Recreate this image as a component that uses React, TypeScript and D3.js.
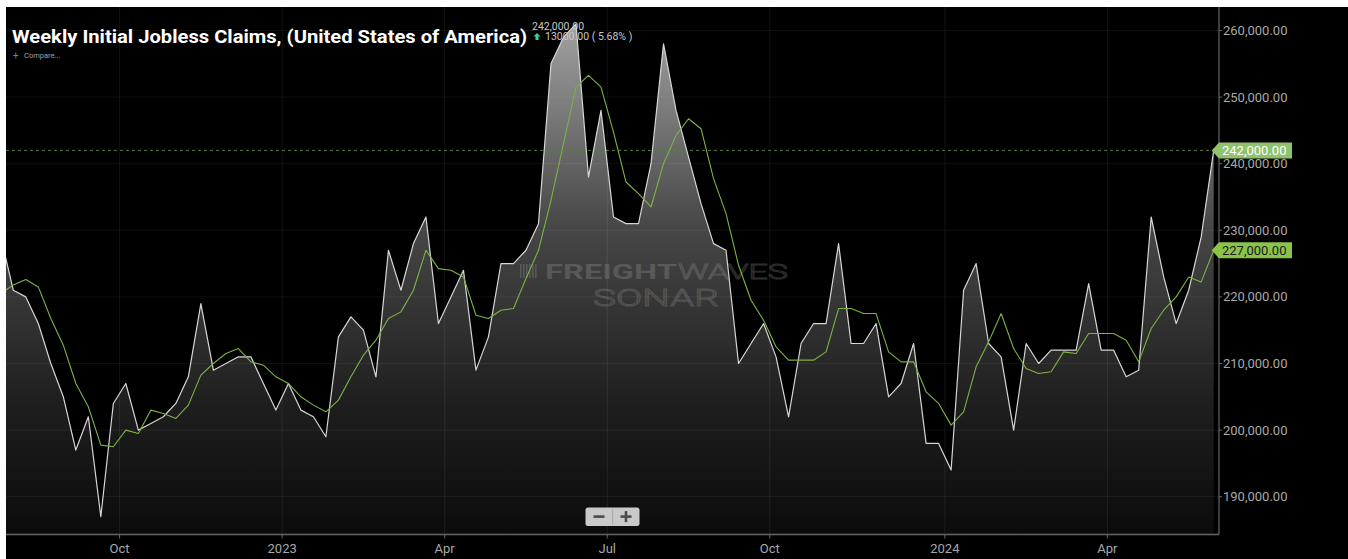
import React from 'react';
import * as d3 from 'd3';

// Weekly initial jobless claims (week index 0 = Jul 30 2022 ... 97 = Jun 8 2024)
const claims: number[] = [
  229000, 221000, 220000, 216000, 210000, 205000, 197000, 202000, 187000, 204000,
  207000, 200000, 201000, 202000, 204000, 208000, 219000, 209000, 210000, 211000,
  211000, 207000, 203000, 207000, 203000, 202000, 199000, 214000, 217000, 215000,
  208000, 227000, 221000, 228000, 232000, 216000, 220000, 224000, 209000, 214000,
  225000, 225000, 227000, 231000, 255000, 259000, 261000, 238000, 248000, 232000,
  231000, 231000, 240000, 258000, 248000, 241000, 234000, 228000, 227000, 210000,
  213000, 216000, 211000, 202000, 213000, 216000, 216000, 228000, 213000, 213000,
  216000, 205000, 207000, 213000, 198000, 198000, 194000, 221000, 225000, 213000,
  211000, 200000, 213000, 210000, 212000, 212000, 212000, 222000, 212000, 212000,
  208000, 209000, 232000, 223000, 216000, 221000, 229000, 242000,
];

// 4-week moving average
const movingAvg: number[] = [
  220500, 221800, 222600, 221500, 216750, 212750, 207000, 203500, 197750, 197500,
  200000, 199500, 203000, 202500, 201750, 203750, 208250, 210000, 211500, 212250,
  210250, 209750, 208000, 207000, 205000, 203750, 202750, 204500, 208000, 211250,
  213500, 216750, 217750, 221000, 227000, 224250, 224000, 223000, 217250, 216750,
  218000, 218250, 222750, 227000, 234500, 243000, 251500, 253250, 251500, 244750,
  237250, 235500, 233500, 240000, 244250, 246750, 245250, 237750, 232500, 224750,
  219500, 216500, 212500, 210500, 210500, 210500, 211750, 218250, 218250, 217500,
  217500, 211750, 210250, 210250, 205750, 204000, 200750, 202750, 209500, 213250,
  217500, 212250, 209250, 208500, 208750, 211750, 211500, 214500, 214500, 214500,
  213500, 210250, 215250, 218000, 220000, 223000, 222250, 227000,
];

const xTickLabels: string[] = ['Oct', '2023', 'Apr', 'Jul', 'Oct', '2024', 'Apr'];
const xTickWeekPos: number[] = [9.5, 22.5, 35.5, 48.5, 61.5, 75.5, 88.5];
const yTickValues: number[] = [190000, 200000, 210000, 220000, 230000, 240000, 250000, 260000];

const titleText = 'Weekly Initial Jobless Claims, (United States of America)';
const lastValueText = '242,000.00';
const changeText = '13000.00 ( 5.68% )';

const FONT = "Roboto, 'Liberation Sans', Arial, sans-serif";

export default function App() {
  const W = 1348;
  const H = 559;
  const plotLeft = 6;
  const plotTop = 7;
  const plotRight = 1219;
  const plotBottom = 534.5;

  const x = d3.scaleLinear().domain([0, claims.length - 1]).range([0.8, 1213.7]);
  const y = d3.scaleLinear().domain([190000, 260000]).range([496.7, 30.5]);

  const idx = claims.map((_, i) => i);
  const lineGen = d3.line<number>().x((i) => x(i)).y((i) => y(claims[i]));
  const areaGen = d3
    .area<number>()
    .x((i) => x(i))
    .y0(plotBottom)
    .y1((i) => y(claims[i]));
  const maGen = d3.line<number>().x((i) => x(i)).y((i) => y(movingAvg[i]));

  const fmt = d3.format(',.2f');
  const last = claims[claims.length - 1];
  const lastMa = movingAvg[movingAvg.length - 1];
  const tipX = x(claims.length - 1) - 2;

  const tagPath = (v: number) => {
    const cy = y(v);
    return `M${tipX},${cy} L${plotRight},${cy - 8} L${plotRight + 73},${cy - 8} L${plotRight + 73},${cy + 8} L${plotRight},${cy + 8} Z`;
  };

  return (
    <svg
      width={W}
      height={H}
      style={{ position: 'absolute', left: 0, top: 0, display: 'block' }}
      fontFamily={FONT}
    >
      <defs>
        <clipPath id="plotClip">
          <rect x={plotLeft} y={plotTop} width={plotRight - plotLeft} height={plotBottom - plotTop} />
        </clipPath>
        <linearGradient id="areaGrad" gradientUnits="userSpaceOnUse" x1="0" y1="20" x2="0" y2={plotBottom}>
          <stop offset="0%" stopColor="#a3a3a3" />
          <stop offset="40%" stopColor="#474747" />
          <stop offset="75%" stopColor="#1e1e1e" />
          <stop offset="100%" stopColor="#0b0b0b" />
        </linearGradient>
      </defs>

      <rect x={0} y={0} width={W} height={H} fill="#ffffff" />
      <rect x={plotLeft} y={plotTop} width={W - plotLeft} height={H - plotTop} fill="#000000" />

      <g clipPath="url(#plotClip)">
        <path d={areaGen(idx) || ''} fill="url(#areaGrad)" />
        {yTickValues.map((v) => (
          <line key={'hg' + v} x1={plotLeft} x2={plotRight} y1={y(v)} y2={y(v)} stroke="#ffffff" strokeOpacity={0.06} />
        ))}
        {xTickWeekPos.map((p, i) => (
          <line key={'vg' + i} x1={x(p)} x2={x(p)} y1={plotTop} y2={plotBottom} stroke="#ffffff" strokeOpacity={0.07} />
        ))}

        {/* watermark */}
        <g opacity={0.3}>
          {[0, 1, 2, 3, 4, 5].map((k) => (
            <rect key={'wb' + k} x={520 + k * 3} y={264} width={1.6} height={14} fill="#9a9a9a" />
          ))}
          <text x={545} y={278.5} fontSize={21} fontWeight={700} fill="#9a9a9a" textLength={132} lengthAdjust="spacingAndGlyphs">
            FREIGHT
          </text>
          <text x={678} y={278.5} fontSize={21} fontWeight={300} fill="none" stroke="#9a9a9a" strokeWidth={0.9} textLength={110} lengthAdjust="spacingAndGlyphs">
            WAVES
          </text>
          <text x={593} y={305.5} fontSize={23} fontWeight={300} fill="none" stroke="#9a9a9a" strokeWidth={0.9} textLength={126} lengthAdjust="spacingAndGlyphs">
            SONAR
          </text>
        </g>

        <line x1={plotLeft} x2={tipX} y1={y(last)} y2={y(last)} stroke="#5b7a45" strokeDasharray="3,3" strokeWidth={1} />
        <path d={lineGen(idx) || ''} fill="none" stroke="#d6d6d6" strokeWidth={1.2} strokeLinejoin="round" />
        <path d={maGen(idx) || ''} fill="none" stroke="#7cb342" strokeWidth={1.1} strokeLinejoin="round" />
      </g>

      {/* axes */}
      <line x1={plotLeft} x2={plotRight} y1={plotBottom} y2={plotBottom} stroke="#666" strokeWidth={1.6} />
      <line x1={plotRight} x2={plotRight} y1={plotTop} y2={plotBottom} stroke="#666" strokeWidth={1.2} />
      {xTickWeekPos.map((p, i) => (
        <g key={'xt' + i}>
          <line x1={x(p)} x2={x(p)} y1={plotBottom} y2={plotBottom + 4} stroke="#666" />
          <text x={x(p)} y={553} textAnchor="middle" fontSize={13} fill="#a8a8a8">
            {xTickLabels[i]}
          </text>
        </g>
      ))}
      {yTickValues.map((v) => (
        <g key={'yt' + v}>
          <line x1={plotRight} x2={plotRight + 3} y1={y(v)} y2={y(v)} stroke="#666" />
          <text x={1223} y={y(v)} dy="0.35em" fontSize={13} fill="#a8a8a8">
            {fmt(v)}
          </text>
        </g>
      ))}

      {/* value tags */}
      <path d={tagPath(last)} fill="#8fc46c" />
      <text x={1222} y={y(last)} dy="0.36em" fontSize={13} fill="#ffffff">
        {fmt(last)}
      </text>
      <path d={tagPath(lastMa)} fill="#8bc34a" />
      <text x={1222} y={y(lastMa)} dy="0.36em" fontSize={13} fill="#1b1b1b">
        {fmt(lastMa)}
      </text>

      {/* title & header */}
      <text x={12} y={43} fontSize={18} fontWeight={700} fill="#ffffff" textLength={515} lengthAdjust="spacingAndGlyphs">
        {titleText}
      </text>
      <text x={532} y={29.5} fontSize={10.5} fill="#c8c8c8">
        {lastValueText}
      </text>
      <path d="M537,33 L540.5,36.5 L538.5,36.5 L538.5,40 L535.5,40 L535.5,36.5 L533.5,36.5 Z" fill="#35d49a" />
      <text x={545} y={40} fontSize={10.5} fill="#c8c8c8">
        {changeText}
      </text>
      <text x={13} y={58.5} fontSize={10} fill="#3f8fe0">
        +
      </text>
      <text x={24} y={58} fontSize={7.5} fill="#a0a0a0">
        Compare...
      </text>

      {/* zoom buttons */}
      <rect x={585.5} y={507.5} width={54} height={18.5} rx={2.5} fill="#c9c9c9" />
      <line x1={612.7} x2={612.7} y1={509} y2={524.5} stroke="#a8a8a8" />
      <rect x={593.5} y={515.3} width={11} height={2.6} fill="#4a4a4a" />
      <rect x={620.5} y={515.3} width={11} height={2.6} fill="#4a4a4a" />
      <rect x={624.7} y={511.1} width={2.6} height={11} fill="#4a4a4a" />
    </svg>
  );
}
